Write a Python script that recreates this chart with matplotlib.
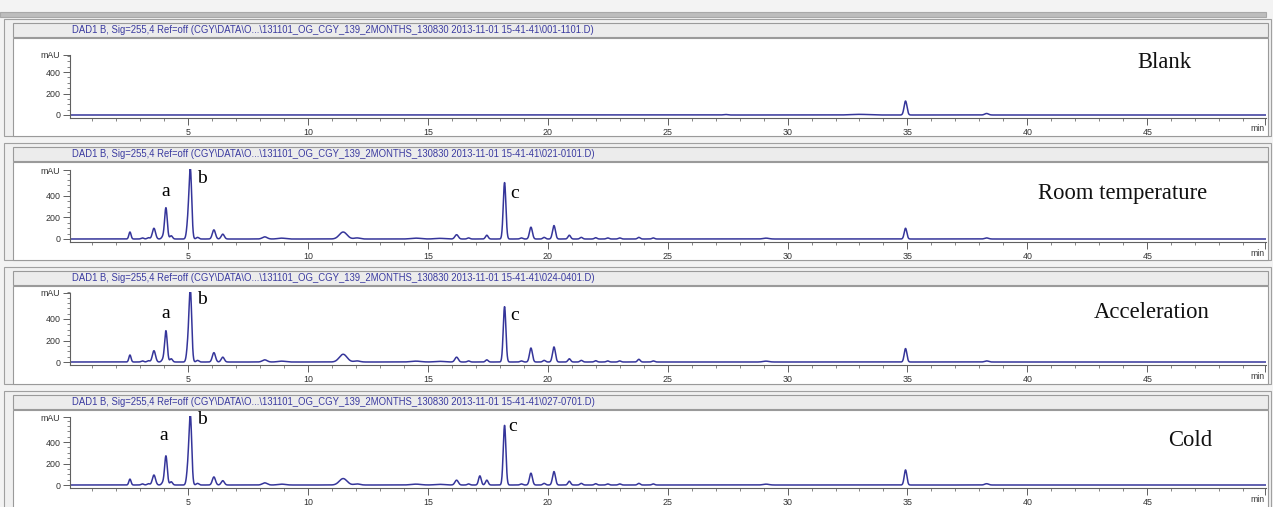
import numpy as np
import matplotlib
matplotlib.use('Agg')
import matplotlib.pyplot as plt
from matplotlib.patches import Rectangle
from matplotlib.ticker import MultipleLocator, FixedLocator

W, H = 1273, 507
fig = plt.figure(figsize=(W / 100, H / 100), dpi=100, facecolor='#f3f3f3')

# ---------------- data ----------------
panel_names = ['Blank', 'Room temperature', 'Acceleration', 'Cold']
file_ids = ['001-1101.D', '021-0101.D', '024-0401.D', '027-0701.D']
header_prefix = ('DAD1 B, Sig=255,4 Ref=off (CGY\\DATA\\O...\\131101_OG_CGY_139_2MONTHS_130830 '
                 '2013-11-01 15-41-41\\')
x_ticks = [5, 10, 15, 20, 25, 30, 35, 40, 45]
y_ticks = [0, 200, 400]
mau_level = [560, 640, 645, 630]

# peak tables: retention time (min), height (mAU), peak sigma (min)
blank_rt = [27.4, 33.0, 34.92, 38.3]
blank_h = [5, 6, 130, 14]
blank_w = [0.08, 0.35, 0.06, 0.08]

room_rt = [2.58, 3.1, 3.35, 3.58, 3.95, 4.08, 4.3, 5.0, 5.1, 5.4, 6.08, 6.45, 8.2, 8.9,
           11.47, 12.05, 14.5, 15.5, 16.2, 16.7, 17.46, 18.2, 18.9, 19.3, 19.85, 20.26,
           20.9, 21.4, 22.0, 22.5, 23.0, 23.8, 24.4, 29.1, 34.92, 38.3]
room_h = [65, 10, 12, 100, 20, 290, 30, 150, 630, 15, 85, 45, 20, 8,
          65, 10, 8, 6, 40, 10, 35, 525, 10, 110, 15, 125,
          35, 15, 12, 10, 10, 15, 10, 8, 100, 10]

accel_rt = room_rt
accel_h = [65, 10, 12, 105, 20, 290, 30, 150, 650, 15, 87, 45, 20, 8,
           72, 10, 8, 6, 45, 10, 20, 515, 10, 130, 15, 140,
           30, 15, 12, 10, 10, 25, 10, 8, 125, 10]

cold_rt = [2.58, 3.1, 3.35, 3.58, 3.95, 4.08, 4.3, 5.0, 5.1, 5.4, 6.08, 6.45, 8.2, 8.9,
           11.47, 12.05, 14.5, 15.5, 16.2, 16.7, 17.17, 17.46, 18.2, 18.9, 19.3, 19.85, 20.26,
           20.9, 21.4, 22.0, 22.5, 23.0, 23.8, 24.4, 29.1, 34.92, 38.3]
cold_h = [55, 10, 12, 93, 20, 270, 30, 150, 630, 15, 75, 40, 20, 8,
          60, 10, 8, 6, 45, 10, 85, 45, 555, 10, 110, 15, 125,
          35, 15, 12, 10, 10, 15, 10, 8, 140, 12]

sample_w = {2.58: 0.045, 3.58: 0.065, 11.47: 0.16, 12.05: 0.12, 14.5: 0.2, 15.5: 0.2,
            8.2: 0.1, 8.9: 0.15, 16.2: 0.07, 29.1: 0.12, 38.3: 0.08, 6.08: 0.065, 6.45: 0.065,
            19.3: 0.06, 20.26: 0.06}

peak_labels = ['a', 'b', 'c']
label_xy = [
    None,
    [(4.08, 440), (5.6, 565), (18.6, 425)],
    [(4.08, 455), (5.6, 585), (18.6, 435)],
    [(4.0, 465), (5.6, 605), (18.55, 540)],
]

panels_rt = [blank_rt, room_rt, accel_rt, cold_rt]
panels_h = [blank_h, room_h, accel_h, cold_h]

t = np.linspace(0.08, 49.95, 8000)


def trace(rts, hs, ws=None):
    y = np.zeros_like(t)
    for i, (r, h) in enumerate(zip(rts, hs)):
        s = ws[i] if ws is not None else sample_w.get(r, 0.055)
        y += h * np.exp(-0.5 * ((t - r) / s) ** 2)
    return y


def add_rect(x0, y0, x1, y1, fc, ec, lw=0.8):
    fig.patches.append(Rectangle((x0 / W, 1 - y1 / H), (x1 - x0) / W, (y1 - y0) / H,
                                 transform=fig.transFigure, facecolor=fc, edgecolor=ec,
                                 linewidth=lw, zorder=-5))


# top strip
add_rect(0, 12, 1266, 17, '#bdbdbd', '#a8a8a8')

baselines = [115, 239, 362, 485]
scale = 0.1075  # px per mAU
label_px = [(1164, 62), (1123, 193), (1152, 312), (1190, 441)]
line_color = '#35359a'

for k in range(4):
    o = 124 * k
    add_rect(4, 19 + o, 1271, 136 + o, '#f0f0f0', '#a0a0a0')
    add_rect(13, 23 + o, 1268, 37 + o, '#ececec', '#9a9a9a')
    add_rect(13, 38 + o, 1268, 136 + o, 'white', '#9a9a9a')
    fig.text(72 / W, 1 - (30 + o) / H, header_prefix + file_ids[k] + ')',
             fontsize=6.85, family='Liberation Sans', color='#3a3aa0', va='center', ha='left')

    B = baselines[k]
    ylo, yhi = -30, mau_level[k] + 8
    top_px = B - yhi * scale
    bot_px = B - ylo * scale
    left_px, right_px = 70, 1266
    ax = fig.add_axes([left_px / W, 1 - bot_px / H, (right_px - left_px) / W, (bot_px - top_px) / H])
    ax.set_facecolor('none')
    ax.set_xlim(0.08, 49.95)
    ax.set_ylim(ylo, yhi)
    y = trace(panels_rt[k], panels_h[k], blank_w if k == 0 else None)
    ax.plot(t, y, color=line_color, lw=1.1)
    for sp in ['top', 'right']:
        ax.spines[sp].set_visible(False)
    for sp in ['left', 'bottom']:
        ax.spines[sp].set_color('#606060')
        ax.spines[sp].set_linewidth(0.8)
    ax.spines['left'].set_bounds(ylo, mau_level[k])
    ax.xaxis.set_major_locator(FixedLocator(x_ticks + [49.9]))
    ax.set_xticklabels([str(v) for v in x_ticks] + [''])
    ax.xaxis.set_minor_locator(MultipleLocator(1))
    ax.yaxis.set_major_locator(FixedLocator(y_ticks + [mau_level[k]]))
    ax.set_yticklabels([str(v) for v in y_ticks] + ['mAU'])
    ax.yaxis.set_minor_locator(MultipleLocator(50))
    ax.tick_params(axis='both', which='major', length=5, width=0.7, color='#606060',
                   labelsize=6.4, labelcolor='#333333', pad=2)
    ax.tick_params(axis='both', which='minor', length=2.5, width=0.6, color='#707070')
    for lab in ax.get_xticklabels() + ax.get_yticklabels():
        lab.set_family('Liberation Sans')
    ax.text(49.6, -0.09, 'min', transform=ax.get_xaxis_transform(), fontsize=6.2,
            family='Liberation Sans', color='#333333', ha='center', va='top')

    if label_xy[k] is not None:
        for lab, (lx, ly) in zip(peak_labels, label_xy[k]):
            ax.text(lx, ly, lab, fontsize=14, family='Liberation Serif', color='black',
                    ha='center', va='center')

    lx, ly = label_px[k]
    fig.text(lx / W, 1 - ly / H, panel_names[k], fontsize=16.3, family='Liberation Serif',
             color='#111111', ha='center', va='center')

fig.savefig('out.png', dpi=100, facecolor=fig.get_facecolor())
